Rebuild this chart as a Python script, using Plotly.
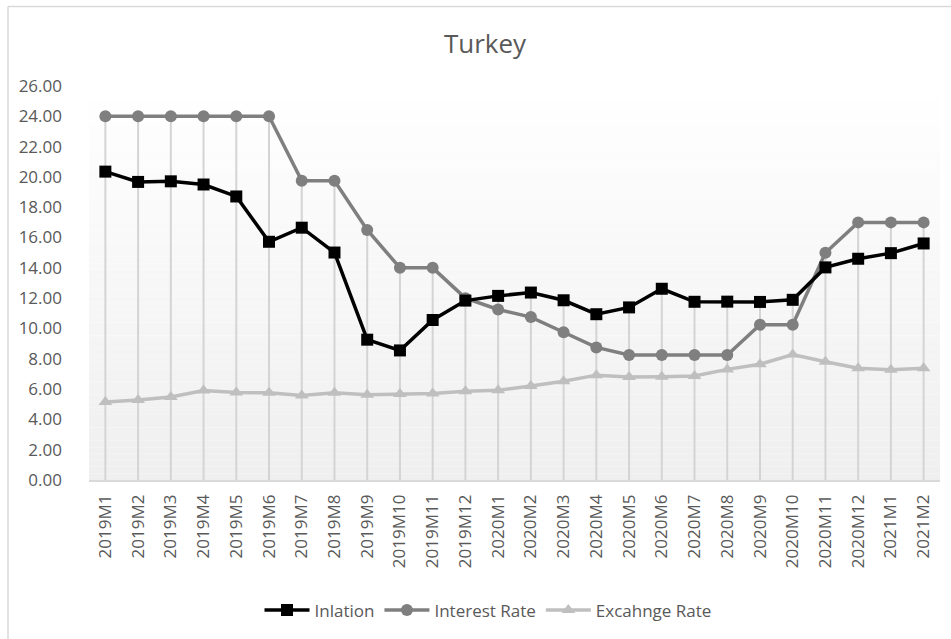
import plotly.graph_objects as go

# Monthly periods
months = ["2019M1", "2019M2", "2019M3", "2019M4", "2019M5", "2019M6", "2019M7",
          "2019M8", "2019M9", "2019M10", "2019M11", "2019M12", "2020M1", "2020M2",
          "2020M3", "2020M4", "2020M5", "2020M6", "2020M7", "2020M8", "2020M9",
          "2020M10", "2020M11", "2020M12", "2021M1", "2021M2"]

inflation = [20.35, 19.67, 19.71, 19.50, 18.71, 15.72, 16.65, 15.01, 9.26, 8.55,
             10.56, 11.84, 12.15, 12.37, 11.86, 10.94, 11.39, 12.62, 11.76, 11.77,
             11.75, 11.89, 14.03, 14.60, 14.97, 15.61]

interest_rate = [24.00, 24.00, 24.00, 24.00, 24.00, 24.00, 19.75, 19.75, 16.50, 14.00,
                 14.00, 12.00, 11.25, 10.75, 9.75, 8.75, 8.25, 8.25, 8.25, 8.25,
                 10.25, 10.25, 15.00, 17.00, 17.00, 17.00]

exchange_rate = [5.15, 5.28, 5.48, 5.90, 5.78, 5.75, 5.58, 5.76, 5.62, 5.68,
                 5.70, 5.86, 5.92, 6.20, 6.52, 6.92, 6.80, 6.82, 6.87, 7.30,
                 7.64, 8.28, 7.80, 7.38, 7.28, 7.38]

y_ticks = [0, 2, 4, 6, 8, 10, 12, 14, 16, 18, 20, 22, 24, 26]

W, H = 951, 639
L, R, T, B = 89, 11, 86, 157
PW, PH = W - L - R, H - T - B

TEXT = "#595959"
FONT = "Open Sans"

fig = go.Figure()

# Drop lines from the highest series down to the category axis
dx, dy = [], []
for i, m in enumerate(months):
    top = max(inflation[i], interest_rate[i], exchange_rate[i])
    dx += [m, m, None]
    dy += [0, top, None]
fig.add_trace(go.Scatter(x=dx, y=dy, mode="lines", showlegend=False,
                         hoverinfo="skip",
                         line=dict(color="#d4d4d4", width=2)))

fig.add_trace(go.Scatter(
    x=months, y=exchange_rate, name="Excahnge Rate", mode="lines+markers",
    line=dict(color="#bfbfbf", width=3.5),
    marker=dict(symbol="triangle-up", size=12, color="#bfbfbf")))

fig.add_trace(go.Scatter(
    x=months, y=interest_rate, name="Interest Rate", mode="lines+markers",
    line=dict(color="#7f7f7f", width=3.5),
    marker=dict(symbol="circle", size=12, color="#7f7f7f")))

fig.add_trace(go.Scatter(
    x=months, y=inflation, name="Inlation", mode="lines+markers",
    line=dict(color="#000000", width=3.5),
    marker=dict(symbol="square", size=12, color="#000000")))

# Vertical white-to-grey gradient behind the plot area
shapes = []
n = 60
for k in range(n):
    f = k / (n - 1)
    c = int(round(255 - (255 - 239) * (1 - f)))
    shapes.append(dict(type="rect", xref="paper", yref="paper",
                       x0=0, x1=1, y0=k / n, y1=(k + 1) / n,
                       fillcolor=f"rgb({c},{c},{c})", line=dict(width=0),
                       layer="below"))

# Chart frame (top and left edges)
def px_x(px):
    return (px - L) / PW

def px_y(py):
    return (H - B - py) / PH

shapes.append(dict(type="line", xref="paper", yref="paper",
                   x0=px_x(8), x1=px_x(960), y0=px_y(6), y1=px_y(6),
                   line=dict(color="#d9d9d9", width=1.5)))
shapes.append(dict(type="line", xref="paper", yref="paper",
                   x0=px_x(8), x1=px_x(8), y0=px_y(6), y1=px_y(650),
                   line=dict(color="#d9d9d9", width=1.5)))

fig.update_layout(
    width=W, height=H,
    margin=dict(l=L, r=R, t=T, b=B, pad=0),
    paper_bgcolor="white", plot_bgcolor="white",
    shapes=shapes,
    title=dict(text="Turkey", x=px_x(485), xanchor="center",
               y=1 - 44 / H, yanchor="middle", xref="paper",
               font=dict(family=FONT, size=26, color=TEXT)),
    legend=dict(orientation="h", x=px_x(488), xanchor="center",
                y=px_y(613), yanchor="middle",
                font=dict(family=FONT, size=17, color=TEXT),
                traceorder="reversed", bgcolor="rgba(0,0,0,0)",
                itemwidth=45),
    xaxis=dict(type="category", categoryorder="array", categoryarray=months,
               tickangle=-90, tickfont=dict(family=FONT, size=17, color=TEXT),
               showgrid=False, showline=True, linecolor="#d9d9d9", linewidth=1.5,
               ticks="", zeroline=False, range=[-0.5, len(months) - 0.5],
               ticklabelstandoff=6),
    yaxis=dict(range=[0, 26], tickvals=y_ticks,
               ticktext=[f"{v:.2f}" for v in y_ticks],
               tickfont=dict(family=FONT, size=17, color=TEXT),
               showgrid=False, zeroline=False, showline=False, ticks="",
               ticklabelstandoff=26),
    showlegend=True,
)

fig.write_html("out.html")
